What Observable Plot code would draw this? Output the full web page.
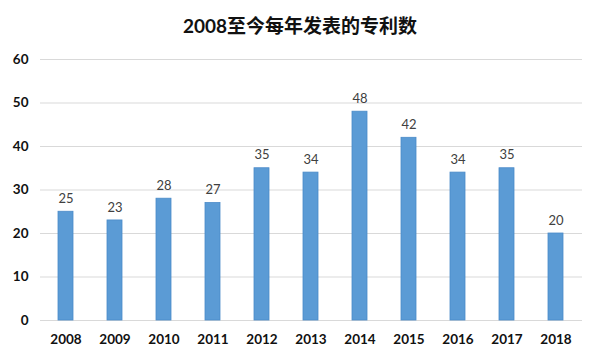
<!DOCTYPE html>
<html><head><meta charset="utf-8">
<script src="https://cdn.jsdelivr.net/npm/d3@7"></script>
<script src="https://cdn.jsdelivr.net/npm/@observablehq/plot@0.6"></script>
<style>
body{margin:0;background:#fff;}
#title{height:45px;box-sizing:border-box;text-align:center;font:bold 19px Lato,"Noto Sans CJK SC",sans-serif;line-height:52px;color:#111;white-space:nowrap;}
</style></head><body>
<div id="title">2008至今每年发表的专利数</div>
<div id="chart"></div>
<script>
const years = ["2008","2009","2010","2011","2012","2013","2014","2015","2016","2017","2018"];
const patents = [25,23,28,27,35,34,48,42,34,35,20];
const yTicks = [0,10,20,30,40,50,60];
const data = years.map((y,i)=>({year:y, n:patents[i]}));
const chart = Plot.plot({
  width:600, height:314,
  marginTop:14, marginBottom:39, marginLeft:40, marginRight:18,
  style:{fontFamily:"Lato, 'Noto Sans', sans-serif", background:"#fff"},
  x:{domain:years, paddingInner:0.69, paddingOuter:0.34, label:null},
  y:{domain:[0,60], label:null},
  marks:[
    Plot.gridY(yTicks, {stroke:"#d9d9d9", strokeOpacity:1, strokeWidth:1.2}),
    Plot.barY(data, {x:"year", y:"n", fill:"#5b9bd5", stroke:"#4a8ac8", strokeWidth:0.8}),
    Plot.text(data, {x:"year", y:"n", text:d=>String(d.n), dy:-13, fill:"#404040", fontSize:13}),
    Plot.axisX({tickSize:0, tickPadding:14, fontSize:13.5, fontWeight:"bold", fill:"#111"}),
    Plot.axisY(yTicks, {tickSize:0, tickPadding:12, fontSize:13.5, fontWeight:"bold", fill:"#111"})
  ]
});
document.getElementById("chart").append(chart);
</script>
</body></html>
